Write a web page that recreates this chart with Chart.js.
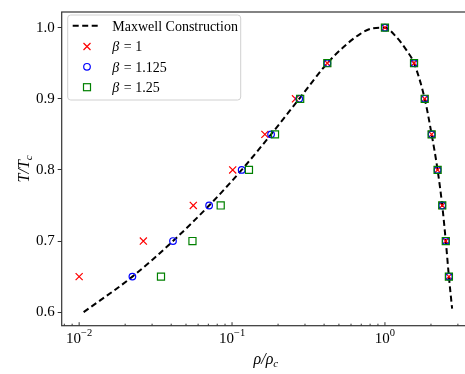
<!DOCTYPE html>
<html><head><meta charset="utf-8">
<script src="https://cdn.jsdelivr.net/npm/chart.js@4.4.1/dist/chart.umd.min.js"></script>
<style>html,body{margin:0;padding:0;background:#fff;overflow:hidden;width:465px;height:374px}canvas{display:block}</style>
</head><body>
<canvas id="c" width="520" height="374" style="width:520px;height:374px"></canvas>
<script>
// ---- data ----
const tempLevels   = [0.65, 0.70, 0.75, 0.80, 0.85, 0.90, 0.95, 1.00, 0.95, 0.90, 0.85, 0.80, 0.75, 0.70, 0.65];
const rhoBeta1     = [0.0100, 0.0263, 0.0558, 0.101, 0.164, 0.260, 0.42, 1.0, 1.55, 1.82, 2.02, 2.21, 2.37, 2.50, 2.62];
const rhoBeta1125  = [0.0223, 0.0411, 0.0708, 0.1156, 0.180, 0.275, 0.42, 1.0, 1.55, 1.82, 2.02, 2.21, 2.37, 2.50, 2.62];
const rhoBeta125   = [0.0343, 0.0551, 0.0843, 0.129, 0.191, 0.279, 0.42, 1.0, 1.55, 1.82, 2.02, 2.21, 2.37, 2.50, 2.62];
const maxwellRho   = [0.0107, 0.0223, 0.0411, 0.0708, 0.1156, 0.180, 0.275, 0.42, 0.534, 0.687, 0.839, 1.0, 1.193, 1.386, 1.55, 1.82, 2.02, 2.21, 2.37, 2.50, 2.62, 2.75];
const maxwellT     = [0.60, 0.65, 0.70, 0.75, 0.80, 0.85, 0.90, 0.95, 0.9725, 0.991, 0.9993, 1.0, 0.9864, 0.968, 0.95, 0.90, 0.85, 0.80, 0.75, 0.70, 0.65, 0.605];
const seriesNames  = ['Maxwell Construction', '1', '1.125', '1.25'];
const yTickValues  = [0.6, 0.7, 0.8, 0.9, 1.0];
const xMajorTicks  = [0.01, 0.1, 1];
const xTickExponents = ['\u22122', '\u22121', '0'];
const xMinorTicks  = [0.008, 0.009, 0.02, 0.03, 0.04, 0.05, 0.06, 0.07, 0.08, 0.09, 0.2, 0.3, 0.4, 0.5, 0.6, 0.7, 0.8, 0.9, 2, 3];

const pts = (xs, ys) => xs.map((v, i) => ({x: v, y: ys[i]}));
const SERIF = '"Liberation Serif", "DejaVu Serif", serif';

const decor = {
  id: 'decor',
  afterDraw(chart) {
    const {ctx, chartArea: a, scales: {x}} = chart;
    ctx.save();
    // frame
    ctx.strokeStyle = '#333'; ctx.lineWidth = 1.2; ctx.setLineDash([]);
    ctx.strokeRect(a.left, a.top, a.right - a.left, a.bottom - a.top);
    // x ticks (inward)
    ctx.lineWidth = 1;
    const tick = (v, len) => { const p = x.getPixelForValue(v); ctx.beginPath(); ctx.moveTo(p, a.bottom); ctx.lineTo(p, a.bottom - len); ctx.stroke(); };
    xMinorTicks.forEach(v => tick(v, 2));
    xMajorTicks.forEach(v => tick(v, 3.5));
    // x tick labels 10^n
    ctx.fillStyle = '#000'; ctx.textBaseline = 'alphabetic'; ctx.textAlign = 'left';
    xMajorTicks.forEach((v, i) => {
      const p = x.getPixelForValue(v);
      ctx.font = '15px ' + SERIF; const w1 = ctx.measureText('10').width;
      ctx.font = '10.5px ' + SERIF; const w2 = ctx.measureText(xTickExponents[i]).width;
      const s = p - (w1 + w2) / 2;
      ctx.font = '15px ' + SERIF; ctx.fillText('10', s, a.bottom + 17);
      ctx.font = '10.5px ' + SERIF; ctx.fillText(xTickExponents[i], s + w1, a.bottom + 10.5);
    });
    // axis titles
    const sub = (main, subTxt, cx, by) => {
      ctx.font = 'italic 16px ' + SERIF; const w1 = ctx.measureText(main).width;
      ctx.font = 'italic 11px ' + SERIF; const w2 = ctx.measureText(subTxt).width;
      const s = cx - (w1 + w2) / 2;
      ctx.font = 'italic 16px ' + SERIF; ctx.fillText(main, s, by);
      ctx.font = 'italic 11px ' + SERIF; ctx.fillText(subTxt, s + w1, by + 3);
    };
    sub('\u03c1/\u03c1', 'c', (a.left + a.right) / 2, 364);
    ctx.save(); ctx.translate(29, (a.top + a.bottom) / 2); ctx.rotate(-Math.PI / 2);
    sub('T/T', 'c', 0, 0); ctx.restore();
    // legend
    const lx = 67.7, ly = 15, lw = 173, lh = 85;
    ctx.fillStyle = 'rgba(255,255,255,0.8)'; ctx.strokeStyle = '#d0d0d0'; ctx.lineWidth = 1;
    ctx.beginPath(); ctx.roundRect(lx, ly, lw, lh, 3); ctx.fill(); ctx.stroke();
    const rows = [25.7, 46.5, 66.8, 87.2];
    const mx = 87, tx = 112.3;
    ctx.strokeStyle = '#000'; ctx.lineWidth = 2; ctx.setLineDash([6, 3.5]);
    ctx.beginPath(); ctx.moveTo(72.7, rows[0]); ctx.lineTo(97.7, rows[0]); ctx.stroke();
    ctx.setLineDash([]);
    ctx.fillStyle = '#000';
    ctx.font = '14px ' + SERIF; ctx.fillText(seriesNames[0], tx, rows[0] + 4.8);
    // markers
    ctx.lineWidth = 1.2;
    ctx.strokeStyle = '#ff0000'; { const d = 3.5, y0 = rows[1]; ctx.beginPath(); ctx.moveTo(mx - d, y0 - d); ctx.lineTo(mx + d, y0 + d); ctx.moveTo(mx + d, y0 - d); ctx.lineTo(mx - d, y0 + d); ctx.stroke(); }
    ctx.strokeStyle = '#0000ff'; ctx.beginPath(); ctx.arc(mx, rows[2], 3.3, 0, 2 * Math.PI); ctx.stroke();
    ctx.strokeStyle = '#008000'; ctx.strokeRect(mx - 3.5, rows[3] - 3.5, 7, 7);
    for (let i = 1; i < 4; i++) {
      const by = rows[i] + 4.8;
      ctx.font = 'italic 14px ' + SERIF; ctx.fillText('\u03b2', tx, by);
      const wb = ctx.measureText('\u03b2').width;
      ctx.font = '14px ' + SERIF; ctx.fillText(' = ' + seriesNames[i], tx + wb + 1, by);
    }
    ctx.restore();
  }
};

new Chart(document.getElementById('c'), {
  type: 'scatter',
  data: {
    datasets: [
      { label: seriesNames[0], type: 'line', data: pts(maxwellRho, maxwellT), borderColor: '#000', borderWidth: 2,
        borderDash: [6, 3.5], pointRadius: 0, fill: false, cubicInterpolationMode: 'monotone', tension: 0.4, order: 4 },
      { label: 'β = 1', data: pts(rhoBeta1, tempLevels), pointStyle: 'crossRot', pointRadius: 5, borderColor: '#ff0000',
        backgroundColor: 'rgba(0,0,0,0)', pointBorderWidth: 1.2, order: 3 },
      { label: 'β = 1.125', data: pts(rhoBeta1125, tempLevels), pointStyle: 'circle', pointRadius: 3.3, borderColor: '#0000ff',
        backgroundColor: 'rgba(0,0,0,0)', pointBorderWidth: 1.2, order: 2 },
      { label: 'β = 1.25', data: pts(rhoBeta125, tempLevels), pointStyle: 'rect', pointRadius: 5, borderColor: '#008000',
        backgroundColor: 'rgba(0,0,0,0)', pointBorderWidth: 1.2, order: 1 }
    ]
  },
  options: {
    responsive: false, animation: false, devicePixelRatio: 1, events: [],
    layout: { padding: { top: 7.5, right: 50, bottom: 0, left: 0 } },
    plugins: { legend: { display: false }, tooltip: { enabled: false } },
    scales: {
      x: { type: 'logarithmic', min: 0.00769, max: 3.6,
        grid: { display: false }, border: { display: false }, ticks: { display: false },
        afterBuildTicks: s => { s.ticks = xMajorTicks.map(v => ({ value: v })); },
        afterFit: s => { s.height = 48.3; } },
      y: { type: 'linear', min: 0.581, max: 1.022,
        grid: { drawOnChartArea: false, drawTicks: true, tickLength: 4, color: '#333', lineWidth: 1 },
        border: { display: false },
        ticks: { color: '#000', font: { family: SERIF, size: 15 }, padding: 3, callback: v => v.toFixed(1) },
        afterBuildTicks: s => { s.ticks = yTickValues.map(v => ({ value: v })); },
        afterFit: s => { s.width = 61.7; } }
    }
  },
  plugins: [decor]
});
</script>
</body></html>
